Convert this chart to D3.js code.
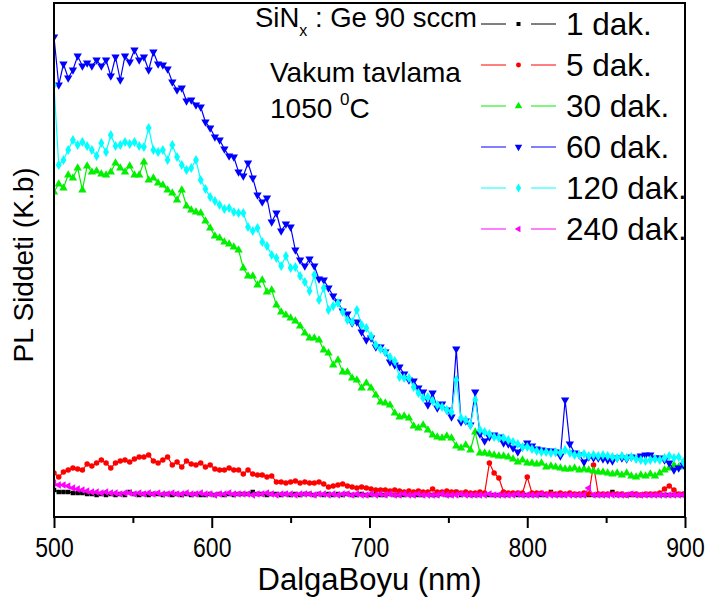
<!DOCTYPE html>
<html>
<head>
<meta charset="utf-8">
<script src="https://cdn.jsdelivr.net/npm/d3@7"></script>
<style>
  html, body { margin: 0; padding: 0; background: #fff; }
  svg { display: block; font-family: "Liberation Sans", Arial, sans-serif; }
</style>
</head>
<body>
<svg id="chart" width="711" height="601"></svg>
<script>
// Wavelength sampling (nm)
const wavelengths = d3.range(500, 900, 3);

// PL intensity (arbitrary units) for each annealing time
const pl1 = [
  27,25,25,25,24,24,24,23,23,22, 23,22,23,22,23,22,25,23,22,23,
  22,23,23,22,23,22,23,22,23,22, 23,22,22,23,22,23,22,23,22,23,
  23,23,25,23,23,22,23,23,22,23, 22,23,22,23,23,22,23,22,23,22,
  23,22,23,22,22,23,22,22,23,22, 22,23,22,22,22,23,22,22,22,23,
  22,22,23,22,22,25,22,23,22,22, 22,23,22,22,22,22,22,23,22,22,
  22,22,22,22,22,25,22,22,22,23, 22,22,22,22,22,22,22,22,25,22,
  22,22,22,22,22,22,22,22,22,22, 22,22,22,22
];
const pl5 = [
  44,40,45,47,49,48,47,53,51,54, 57,54,49,54,56,57,55,58,60,60,
  62,56,54,57,60,52,55,50,56,53, 52,54,50,52,48,47,47,49,47,47,
  43,47,43,42,42,40,41,35,35,34, 35,36,34,35,34,34,35,33,30,31,
  32,33,31,30,29,30,29,28,27,27, 27,26,27,26,25,26,25,26,25,25,
  28,25,25,26,25,25,24,25,24,24, 25,24,54,44,39,25,24,24,24,24,
  40,24,24,24,23,24,23,24,23,24, 23,23,24,23,52,23,23,23,23,23,
  23,22,23,23,22,23,23,23,24,28, 31,27,23,23
];
const pl30 = [
  325,333,329,342,339,349,327,351,345,346, 343,342,345,354,349,345,351,342,342,355,
  337,339,334,332,327,324,317,327,311,307, 305,304,296,289,281,279,275,273,270,267,
  249,241,241,232,237,225,227,212,205,202, 199,196,191,184,179,179,177,167,164,152,
  157,145,145,139,137,129,134,129,122,115, 114,112,104,100,101,99,91,89,92,87,
  82,80,79,81,79,71,69,72,67,85, 64,64,63,62,61,61,60,58,55,57,
  54,54,53,54,50,51,50,49,48,48, 49,47,48,47,46,45,45,44,43,44,
  42,44,41,40,42,41,43,41,44,47, 49,52,50,51
];
const pl60 = [
  480,432,453,439,447,461,451,454,451,457, 451,457,441,460,437,461,455,467,457,460,
  447,465,453,452,448,435,427,429,416,417, 412,410,395,389,380,377,368,361,360,345,
  341,354,339,322,315,319,295,304,286,293, 290,267,257,251,258,251,238,237,229,221,
  215,206,203,194,195,185,177,179,170,170, 165,155,152,150,143,137,136,129,125,112,
  124,109,113,107,100,168,95,96,92,125, 83,76,80,82,80,74,73,69,65,70,
  74,71,68,67,66,66,65,61,117,73, 64,62,55,60,59,59,58,57,56,59,
  59,58,60,59,61,62,62,59,59,57, 54,47,49,52
];
const pl120 = [
  432,352,357,367,377,372,375,371,367,361, 374,365,382,371,372,375,373,375,371,370,
  389,367,365,367,357,372,360,352,347,349, 357,337,328,320,316,312,308,309,305,304,
  304,290,286,289,275,271,262,259,251,261, 249,250,241,235,226,242,217,229,207,211,
  214,205,197,195,207,192,189,181,172,168, 165,160,156,140,139,139,130,124,119,120,
  116,112,110,107,105,137,99,97,92,117, 87,85,83,80,79,79,77,75,73,70,
  70,68,66,65,65,64,65,64,67,64, 62,62,63,61,62,61,62,61,60,59,
  61,59,60,58,57,56,57,58,57,59, 61,59,60,55
];
const pl240 = [
  34,32,32,31,29,28,27,26,25,25, 24,25,24,24,23,24,24,23,24,23,
  24,23,24,23,23,24,23,23,24,23, 23,24,23,23,22,23,23,24,23,23,
  23,23,22,23,23,24,23,22,23,23, 23,22,23,23,23,22,23,23,22,23,
  22,23,23,22,23,22,22,23,22,23, 22,23,22,22,23,22,22,23,22,22,
  22,22,23,22,22,22,23,22,22,22, 22,22,23,22,22,22,22,22,23,22,
  22,22,22,23,22,22,22,22,22,22, 22,22,22,29,22,22,22,22,22,22,
  22,22,23,22,22,22,22,22,22,22, 22,22,22,22
];

const seriesLabels = ["1 dak.", "5 dak.", "30 dak.", "60 dak.", "120 dak.", "240 dak."];
const seriesColors = ["#000000", "#ff0000", "#00f000", "#0000ff", "#00ffff", "#ff00ff"];
const seriesValues = [pl1, pl5, pl30, pl60, pl120, pl240];
const xTicks = [500, 600, 700, 800, 900];
const xMinorTicks = [550, 650, 750, 850];

// marker shape for each series
const markers = [
  { type: d3.symbolSquare, size: 20, rot: 0 },
  { type: d3.symbolCircle, size: 24, rot: 0 },
  { type: d3.symbolTriangle, size: 30, rot: 0 },
  { type: d3.symbolTriangle, size: 30, rot: 180 },
  { type: d3.symbolDiamond, size: 30, rot: 0 },
  { type: d3.symbolTriangle, size: 24, rot: -90 }
];

const svg = d3.select("#chart");
const plot = { left: 54, right: 685, top: 3, bottom: 517 };

const x = d3.scaleLinear().domain([500, 900]).range([plot.left, plot.right]);
const y = d3.scaleLinear().domain([0, 514]).range([plot.bottom, plot.top]);

svg.append("clipPath").attr("id", "plotclip")
  .append("rect")
  .attr("x", plot.left).attr("y", plot.top)
  .attr("width", plot.right - plot.left).attr("height", plot.bottom - plot.top);

const gData = svg.append("g").attr("clip-path", "url(#plotclip)");

const line = d3.line()
  .x((d, i) => x(wavelengths[i]))
  .y(d => y(d));

seriesValues.forEach((vals, k) => {
  const g = gData.append("g");
  g.append("path")
    .datum(vals)
    .attr("d", line)
    .attr("fill", "none")
    .attr("stroke", seriesColors[k])
    .attr("stroke-width", 1.2);
  const sym = d3.symbol().type(markers[k].type).size(markers[k].size);
  g.selectAll("path.m")
    .data(vals)
    .join("path")
    .attr("class", "m")
    .attr("d", sym)
    .attr("fill", seriesColors[k])
    .attr("transform", (d, i) => `translate(${x(wavelengths[i])},${y(d)}) rotate(${markers[k].rot})`);
});

// Frame
svg.append("rect")
  .attr("x", plot.left).attr("y", plot.top)
  .attr("width", plot.right - plot.left).attr("height", plot.bottom - plot.top)
  .attr("fill", "none").attr("stroke", "#000").attr("stroke-width", 2);

// Bottom axis (major ticks with labels, minor ticks without)
const xAxis = d3.axisBottom(x)
  .tickValues(xTicks)
  .tickSize(11)
  .tickFormat("");
const gx = svg.append("g")
  .attr("transform", `translate(0,${plot.bottom})`)
  .call(xAxis);
gx.select(".domain").remove();
gx.selectAll(".tick line").attr("stroke-width", 2);
// tick labels in a narrow face
gx.selectAll(".tick").append("text")
  .attr("transform", "translate(0,40) scale(0.82,1)")
  .attr("text-anchor", "middle")
  .attr("font-size", 28)
  .attr("font-family", "Liberation Sans, Arial, sans-serif")
  .attr("fill", "#000")
  .text(d => d3.format("d")(d));

const xMinor = d3.axisBottom(x).tickValues(xMinorTicks).tickSize(6).tickFormat("");
const gxm = svg.append("g").attr("transform", `translate(0,${plot.bottom})`).call(xMinor);
gxm.select(".domain").remove();
gxm.selectAll(".tick line").attr("stroke-width", 2);

// Axis titles
svg.append("text")
  .attr("x", (plot.left + plot.right) / 2)
  .attr("y", 590)
  .attr("text-anchor", "middle")
  .attr("font-size", 31)
  .text("DalgaBoyu (nm)");

svg.append("text")
  .attr("transform", `translate(33,265) rotate(-90)`)
  .attr("text-anchor", "middle")
  .attr("font-size", 28)
  .text("PL Siddeti (K.b)");

// Sample annotation
const t1 = svg.append("text").attr("x", 255).attr("y", 27).attr("font-size", 27.5);
t1.append("tspan").text("SiN");
t1.append("tspan").attr("font-size", 16).attr("dy", 9).text("x");
t1.append("tspan").attr("dy", -9).text(" : Ge 90 sccm");

svg.append("text").attr("x", 270).attr("y", 82).attr("font-size", 28).text("Vakum tavlama");
const t3 = svg.append("text").attr("x", 270).attr("y", 118).attr("font-size", 28);
t3.append("tspan").text("1050 ");
t3.append("tspan").attr("font-size", 17).attr("dy", -13).text("0");
t3.append("tspan").attr("dy", 13).text("C");

// Legend
const legend = svg.append("g");
seriesLabels.forEach((lab, k) => {
  const ly = 24 + k * 41;
  const row = legend.append("g");
  row.append("line").attr("x1", 481).attr("x2", 506).attr("y1", ly).attr("y2", ly)
    .attr("stroke", seriesColors[k]).attr("stroke-width", 1);
  row.append("line").attr("x1", 531).attr("x2", 556).attr("y1", ly).attr("y2", ly)
    .attr("stroke", seriesColors[k]).attr("stroke-width", 1);
  row.append("path")
    .attr("d", d3.symbol().type(markers[k].type).size(markers[k].size * 0.8)())
    .attr("fill", seriesColors[k])
    .attr("transform", `translate(518.5,${ly}) rotate(${markers[k].rot})`);
  row.append("text").attr("x", 566).attr("y", ly + 11).attr("font-size", 31.5).text(lab);
});
</script>
</body>
</html>
